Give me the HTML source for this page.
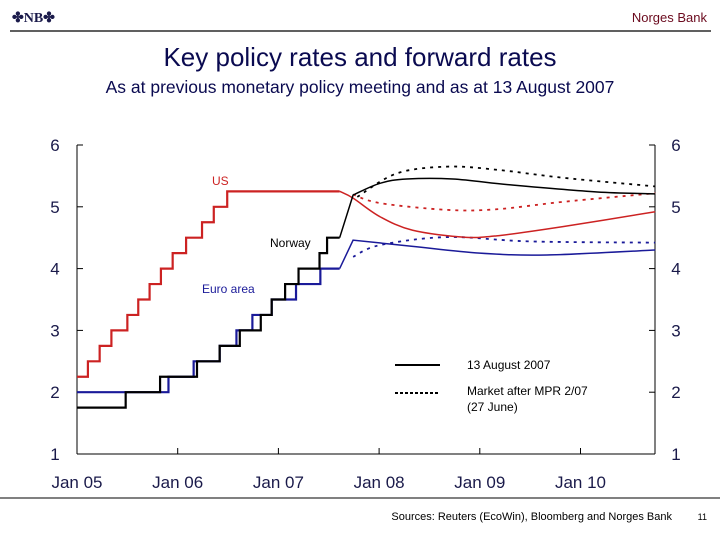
<!DOCTYPE html>
<html><head><meta charset="utf-8">
<style>
body{margin:0;background:#fff;}
#wrap{position:relative;width:720px;height:540px;overflow:hidden;font-family:"Liberation Sans",Arial,sans-serif;}
</style></head>
<body>
<div id="wrap">
<svg id="chart" width="720" height="540" viewBox="0 0 720 540" xmlns="http://www.w3.org/2000/svg">
 <text x="12" y="22" font-family="Liberation Serif,serif" font-size="14" font-weight="bold" fill="#1a1a4a">✤NB✤</text>
 <text x="707" y="22" text-anchor="end" font-size="13" fill="#6b0a1e">Norges Bank</text>
 <line x1="10" y1="31" x2="711" y2="31" stroke="#000" stroke-width="1.2"/>
 <text x="360" y="66" text-anchor="middle" font-size="26" fill="#0a0a50">Key policy rates and forward rates</text>
 <text x="360" y="93" text-anchor="middle" font-size="17.5" fill="#0a0a50">As at previous monetary policy meeting and as at 13 August 2007</text>
 <g id="axes"></g>
 <g id="series"></g>
 <text x="212" y="185" font-size="12" fill="#cc2222">US</text>
 <text x="270" y="247" font-size="12" fill="#000">Norway</text>
 <text x="202" y="293" font-size="12" fill="#1a1a99">Euro area</text>
 <g>
  <line x1="395" y1="365" x2="440" y2="365" stroke="#000" stroke-width="2"/>
  <text x="467" y="369" font-size="12" fill="#000">13 August 2007</text>
  <line x1="395" y1="393" x2="440" y2="393" stroke="#000" stroke-width="2" stroke-dasharray="3,2"/>
  <text x="467" y="395" font-size="12" fill="#000">Market after MPR 2/07</text>
  <text x="467" y="411" font-size="12" fill="#000">(27 June)</text>
 </g>
 <line x1="0" y1="498" x2="720" y2="498" stroke="#000" stroke-width="1"/>
 <text x="672" y="520" text-anchor="end" font-size="11" fill="#000">Sources: Reuters (EcoWin), Bloomberg and Norges Bank</text>
 <text x="707" y="520" text-anchor="end" font-size="9" fill="#000">11</text>
</svg>
</div>
<script>
// month index: 0 = Jan 2005
var yTicks = [1,2,3,4,5,6];
var xTickLabels = ["Jan 05","Jan 06","Jan 07","Jan 08","Jan 09","Jan 10"];
var xTickMonths = [0,12,24,36,48,60];
// Step series: [month, value] change points
var usSteps = [[0,2.25],[1.3,2.5],[2.7,2.75],[4.1,3.0],[6.0,3.25],[7.3,3.5],[8.65,3.75],[10.0,4.0],[11.4,4.25],[13.0,4.5],[14.9,4.75],[16.3,5.0],[17.9,5.25],[31.3,5.25]];
var norwaySteps = [[0,1.75],[5.8,2.0],[9.9,2.25],[14.3,2.5],[17.0,2.75],[19.4,3.0],[21.9,3.25],[23.2,3.5],[24.8,3.75],[26.4,4.0],[28.9,4.25],[29.8,4.5],[31.3,4.5]];
var euroSteps = [[0,2.0],[10.9,2.25],[13.9,2.5],[17.0,2.75],[19.0,3.0],[20.9,3.25],[23.2,3.5],[26.1,3.75],[29.0,4.0],[31.3,4.0]];
// Forward curves 13 August 2007
var usFwdMonths = [31.3,32.9,36.1,40,46,50,57.9,68.9];
var usFwd = [5.25,5.14,4.84,4.62,4.51,4.53,4.68,4.92];
var norwayFwdMonths = [31.3,32.9,36.1,39.3,44.8,52,62,68.9];
var norwayFwd = [4.5,5.19,5.38,5.45,5.45,5.35,5.24,5.21];
var euroFwdMonths = [31.3,32.9,40,48,56,68.9];
var euroFwd = [4.0,4.46,4.36,4.25,4.22,4.30];
// Market after MPR 2/07 (27 June)
var usMprMonths = [32.9,36.1,44.1,50,57.9,68.9];
var usMpr = [5.2,5.06,4.95,4.96,5.08,5.22];
var norwayMprMonths = [33.4,38.1,44.1,50,57.9,68.9];
var norwayMpr = [5.16,5.54,5.65,5.6,5.47,5.33];
var euroMprMonths = [32.9,36.1,44.1,54,68.9];
var euroMpr = [4.19,4.38,4.51,4.44,4.42];

var X0=77, XR=655, PXM=100.7/12, Y1=454, PXU=61.8;
function sx(m){return X0+m*PXM;}
function sy(v){return Y1-(v-1)*PXU;}
var NS="http://www.w3.org/2000/svg";
function mk(t,a,p){var e=document.createElementNS(NS,t);for(var k in a)e.setAttribute(k,a[k]);p.appendChild(e);return e;}
var axes=document.getElementById('axes'), ser=document.getElementById('series');
var AX="#1a1a4a";
var l;
l=mk('line',{x1:X0,y1:sy(6),x2:X0,y2:Y1,stroke:"#000","stroke-width":1},axes);


l=mk('line',{x1:XR,y1:sy(6),x2:XR,y2:Y1,stroke:"#000","stroke-width":1},axes);


l=mk('line',{x1:X0,y1:Y1,x2:XR,y2:Y1,stroke:"#000","stroke-width":1},axes);


yTicks.forEach(function(v){
  var y=sy(v);
  l=mk('line',{x1:X0,y1:y,x2:X0+6,y2:y,stroke:"#000"},axes);
  
  
  l=mk('line',{x1:XR-6,y1:y,x2:XR,y2:y,stroke:"#000"},axes);
  
  
  var t=mk('text',{x:55,y:y+6,"text-anchor":"middle","font-size":17,fill:AX},axes);t.textContent=v;
  
  
  t=mk('text',{x:676,y:y+6,"text-anchor":"middle","font-size":17,fill:AX},axes);t.textContent=v;
  
  
});
xTickMonths.forEach(function(m,i){
  var x=sx(m);
  if(i>0){l=mk('line',{x1:x,y1:Y1-6,x2:x,y2:Y1,stroke:"#000"},axes);
  
  }
  var t=mk('text',{x:x,y:488,"text-anchor":"middle","font-size":17,fill:AX},axes);t.textContent=xTickLabels[i];
  
  
});
function stepPath(s){
  var d="M"+sx(s[0][0])+","+sy(s[0][1]);
  for(var i=1;i<s.length;i++){d+=" L"+sx(s[i][0])+","+sy(s[i-1][1])+" L"+sx(s[i][0])+","+sy(s[i][1]);}
  return d;
}
// linearFirst: draw first segment as straight ramp, smooth the rest
function smoothPath(ms,vs,linearFirst){
  var p=ms.map(function(m,i){return [sx(m),sy(vs[i])];});
  var d="M"+p[0][0]+","+p[0][1];
  var start=0;
  if(linearFirst){d+=" L"+p[1][0]+","+p[1][1];start=1;}
  for(var i=start;i<p.length-1;i++){
    var p0=(i>start)?p[i-1]:p[i],p1=p[i],p2=p[i+1],p3=p[i+2]||p2;
    var c1x=p1[0]+(p2[0]-p0[0])/6,c1y=p1[1]+(p2[1]-p0[1])/6;
    var c2x=p2[0]-(p3[0]-p1[0])/6,c2y=p2[1]-(p3[1]-p1[1])/6;
    d+=" C"+c1x+","+c1y+" "+c2x+","+c2y+" "+p2[0]+","+p2[1];
  }
  return d;
}
var RED="#cc2222",BLK="#000",BLU="#1a1a99";
function addPath(d,col,w,dash,name){
  var a={d:d,fill:"none",stroke:col,"stroke-width":w};
  if(dash)a["stroke-dasharray"]=dash;
  var e=mk('path',a,ser);
  
  
}
addPath(stepPath(usSteps),RED,2.2,null,'us-policy-rate');
addPath(stepPath(euroSteps),BLU,2.2,null,'euro-policy-rate');
addPath(stepPath(norwaySteps),BLK,2.2,null,'norway-policy-rate');
addPath(smoothPath(usMprMonths,usMpr,false),RED,1.8,"3,5",'us-forward-june');
addPath(smoothPath(norwayMprMonths,norwayMpr,false),BLK,1.8,"3,5",'norway-forward-june');
addPath(smoothPath(euroMprMonths,euroMpr,false),BLU,1.8,"3,5",'euro-forward-june');
addPath(smoothPath(usFwdMonths,usFwd,false),RED,1.5,null,'us-forward-aug');
addPath(smoothPath(norwayFwdMonths,norwayFwd,true),BLK,1.5,null,'norway-forward-aug');
addPath(smoothPath(euroFwdMonths,euroFwd,true),BLU,1.5,null,'euro-forward-aug');
</script>
</body></html>
